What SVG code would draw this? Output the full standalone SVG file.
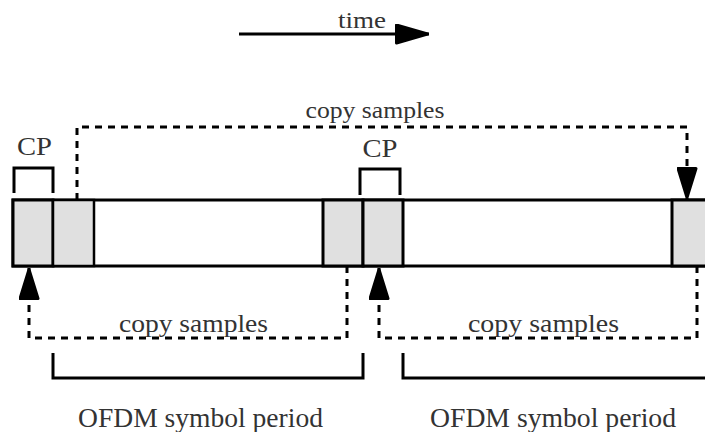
<svg xmlns="http://www.w3.org/2000/svg" width="705" height="432" viewBox="0 0 705 432">
  <style>
    .lbl { font-family: "Liberation Serif", "Times New Roman", serif; fill: #333; text-anchor: middle; }
    .solid { fill: none; stroke: #000; stroke-width: 3; }
    .dash { fill: none; stroke: #000; stroke-width: 3; stroke-dasharray: 7 6; }
    .cp { fill: #e0e0e0; stroke: #000; stroke-width: 3; }
    .tip { fill: #000; stroke: #000; stroke-width: 3; stroke-linejoin: round; }
  </style>
  <defs>
    <marker id="head" viewBox="0 0 32 21" refX="32" refY="10.5" markerWidth="32" markerHeight="21" markerUnits="userSpaceOnUse" orient="auto">
      <path d="M1.5,1.5 L30.5,10.5 L1.5,19.5 z" class="tip"/>
    </marker>
    <marker id="timehead" viewBox="0 0 34 21" refX="34" refY="10.5" markerWidth="34" markerHeight="21" markerUnits="userSpaceOnUse" orient="auto">
      <path d="M1.5,1.5 L32.5,10.5 L1.5,19.5 z" class="tip"/>
    </marker>
  </defs>
  <rect width="705" height="432" fill="#fff"/>

  <!-- time axis -->
  <g id="time-axis">
    <line x1="239" y1="34" x2="429" y2="34" class="solid" marker-end="url(#timehead)"/>
    <text class="lbl" x="362" y="28" font-size="24" textLength="48" lengthAdjust="spacingAndGlyphs">time</text>
  </g>

  <!-- sample stream -->
  <g id="stream">
    <rect x="13" y="200" width="700" height="66" fill="#fff" stroke="#000" stroke-width="3"/>
  </g>
  <g id="cp1">
    <rect x="13" y="200" width="40" height="66" class="cp"/>
  </g>
  <g id="tail1">
    <rect x="53" y="200" width="41" height="66" fill="#e0e0e0" stroke="#000" stroke-width="2.5"/>
  </g>
  <g id="tail1-end">
    <rect x="323" y="200" width="40" height="66" class="cp"/>
  </g>
  <g id="cp2">
    <rect x="363" y="200" width="40" height="66" class="cp"/>
  </g>
  <g id="tail2-end">
    <rect x="672" y="200" width="40" height="66" class="cp"/>
  </g>

  <!-- CP brackets and labels -->
  <g id="cp1-label">
    <path d="M14,193 V168 H53 V193" class="solid"/>
    <text class="lbl" x="34.5" y="155" font-size="26" textLength="35" lengthAdjust="spacingAndGlyphs">CP</text>
  </g>
  <g id="cp2-label">
    <path d="M360,195 V169 H400 V195" class="solid"/>
    <text class="lbl" x="380" y="157" font-size="26" textLength="35" lengthAdjust="spacingAndGlyphs">CP</text>
  </g>

  <!-- OFDM symbol period brackets -->
  <g id="period1">
    <path d="M53,353 V378 H363 V353" class="solid"/>
    <text class="lbl" x="200.5" y="427" font-size="27" textLength="245" lengthAdjust="spacingAndGlyphs">OFDM symbol period</text>
  </g>
  <g id="period2">
    <path d="M403,353 V378 H710" class="solid"/>
    <text class="lbl" x="553" y="427" font-size="27" textLength="246" lengthAdjust="spacingAndGlyphs">OFDM symbol period</text>
  </g>

  <!-- copy-sample connectors -->
  <g id="connectors">
    <path d="M77,200 V127 H687 V199" class="dash" marker-end="url(#head)"/>
    <path d="M347,266 V338 H29 V268" class="dash" marker-end="url(#head)"/>
    <path d="M697,266 V338 H379 V268" class="dash" marker-end="url(#head)"/>
  </g>
  <g id="copy-labels">
    <text class="lbl" x="375" y="118" font-size="23" textLength="139" lengthAdjust="spacingAndGlyphs">copy samples</text>
    <text class="lbl" x="193.5" y="332" font-size="26" textLength="149" lengthAdjust="spacingAndGlyphs">copy samples</text>
    <text class="lbl" x="543.5" y="332" font-size="26" textLength="151" lengthAdjust="spacingAndGlyphs">copy samples</text>
  </g>
</svg>
